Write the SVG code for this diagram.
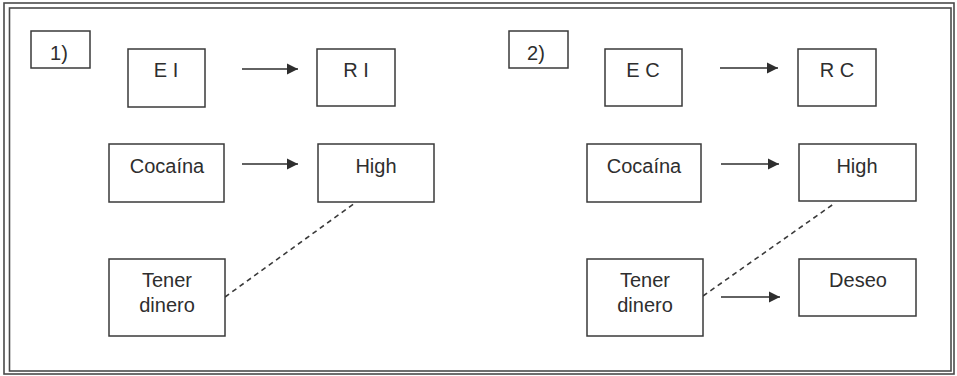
<svg xmlns="http://www.w3.org/2000/svg" width="957" height="376" viewBox="0 0 957 376">
<style>
.box{fill:#fff;stroke:#3a3a3a;stroke-width:1.5}
.frame{fill:none;stroke:#4a4a4a;stroke-width:1.6}
.lbl{font-family:"Liberation Sans",Arial,sans-serif;font-size:20px;fill:#2e2e2e;text-anchor:middle}
.arr{stroke:#2e2e2e;stroke-width:1.6;fill:none;marker-end:url(#ah)}
.dash{stroke:#3a3a3a;stroke-width:1.6;fill:none;stroke-dasharray:5 4}
</style>
<defs>
<marker id="ah" viewBox="0 0 10 10" refX="10" refY="5" markerWidth="7" markerHeight="7" markerUnits="strokeWidth" orient="auto">
<path d="M0,0 L10,5 L0,10 Z" fill="#2e2e2e"/>
</marker>
</defs>
<rect x="0" y="0" width="957" height="376" fill="#fff"/>
<rect class="frame" x="4" y="3" width="950" height="371"/>
<rect class="frame" x="9.5" y="8" width="941.5" height="363"/>

<g id="connectors">
<line class="arr" x1="242" y1="69" x2="298" y2="69"/>
<line class="arr" x1="242" y1="164" x2="298" y2="164"/>
<line class="dash" x1="225" y1="297" x2="355" y2="203"/>
<line class="arr" x1="720" y1="68" x2="778" y2="68"/>
<line class="arr" x1="721" y1="164" x2="779" y2="164"/>
<line class="dash" x1="703" y1="296" x2="835" y2="203"/>
<line class="arr" x1="721" y1="297" x2="780" y2="297"/>
</g>

<g id="label1"><rect class="box" x="31" y="31" width="59" height="37"/><text class="lbl" x="59" y="60" font-size="19">1)</text></g>
<g id="EI"><rect class="box" x="128" y="49" width="77" height="58"/><text class="lbl" x="166" y="77">E I</text></g>
<g id="RI"><rect class="box" x="317" y="49" width="78" height="57"/><text class="lbl" x="356" y="77">R I</text></g>
<g id="cocaina1"><rect class="box" x="109" y="144" width="115" height="58"/><text class="lbl" x="167" y="173">Cocaína</text></g>
<g id="high1"><rect class="box" x="318" y="144" width="116" height="58"/><text class="lbl" x="376" y="173">High</text></g>
<g id="tener1"><rect class="box" x="109" y="259" width="116" height="77"/><text class="lbl" x="167" y="287">Tener</text><text class="lbl" x="167" y="312">dinero</text></g>

<g id="label2"><rect class="box" x="509" y="31" width="59" height="37"/><text class="lbl" x="536" y="60" font-size="19">2)</text></g>
<g id="EC"><rect class="box" x="605" y="49" width="77" height="57"/><text class="lbl" x="643" y="77">E C</text></g>
<g id="RC"><rect class="box" x="798" y="49" width="78" height="57"/><text class="lbl" x="837" y="77">R C</text></g>
<g id="cocaina2"><rect class="box" x="587" y="144" width="114" height="58"/><text class="lbl" x="644" y="173">Cocaína</text></g>
<g id="high2"><rect class="box" x="799" y="144" width="117" height="57"/><text class="lbl" x="857" y="173">High</text></g>
<g id="tener2"><rect class="box" x="587" y="259" width="116" height="77"/><text class="lbl" x="645" y="287">Tener</text><text class="lbl" x="645" y="312">dinero</text></g>
<g id="deseo"><rect class="box" x="799" y="259" width="117" height="57"/><text class="lbl" x="858" y="287">Deseo</text></g>
</svg>
